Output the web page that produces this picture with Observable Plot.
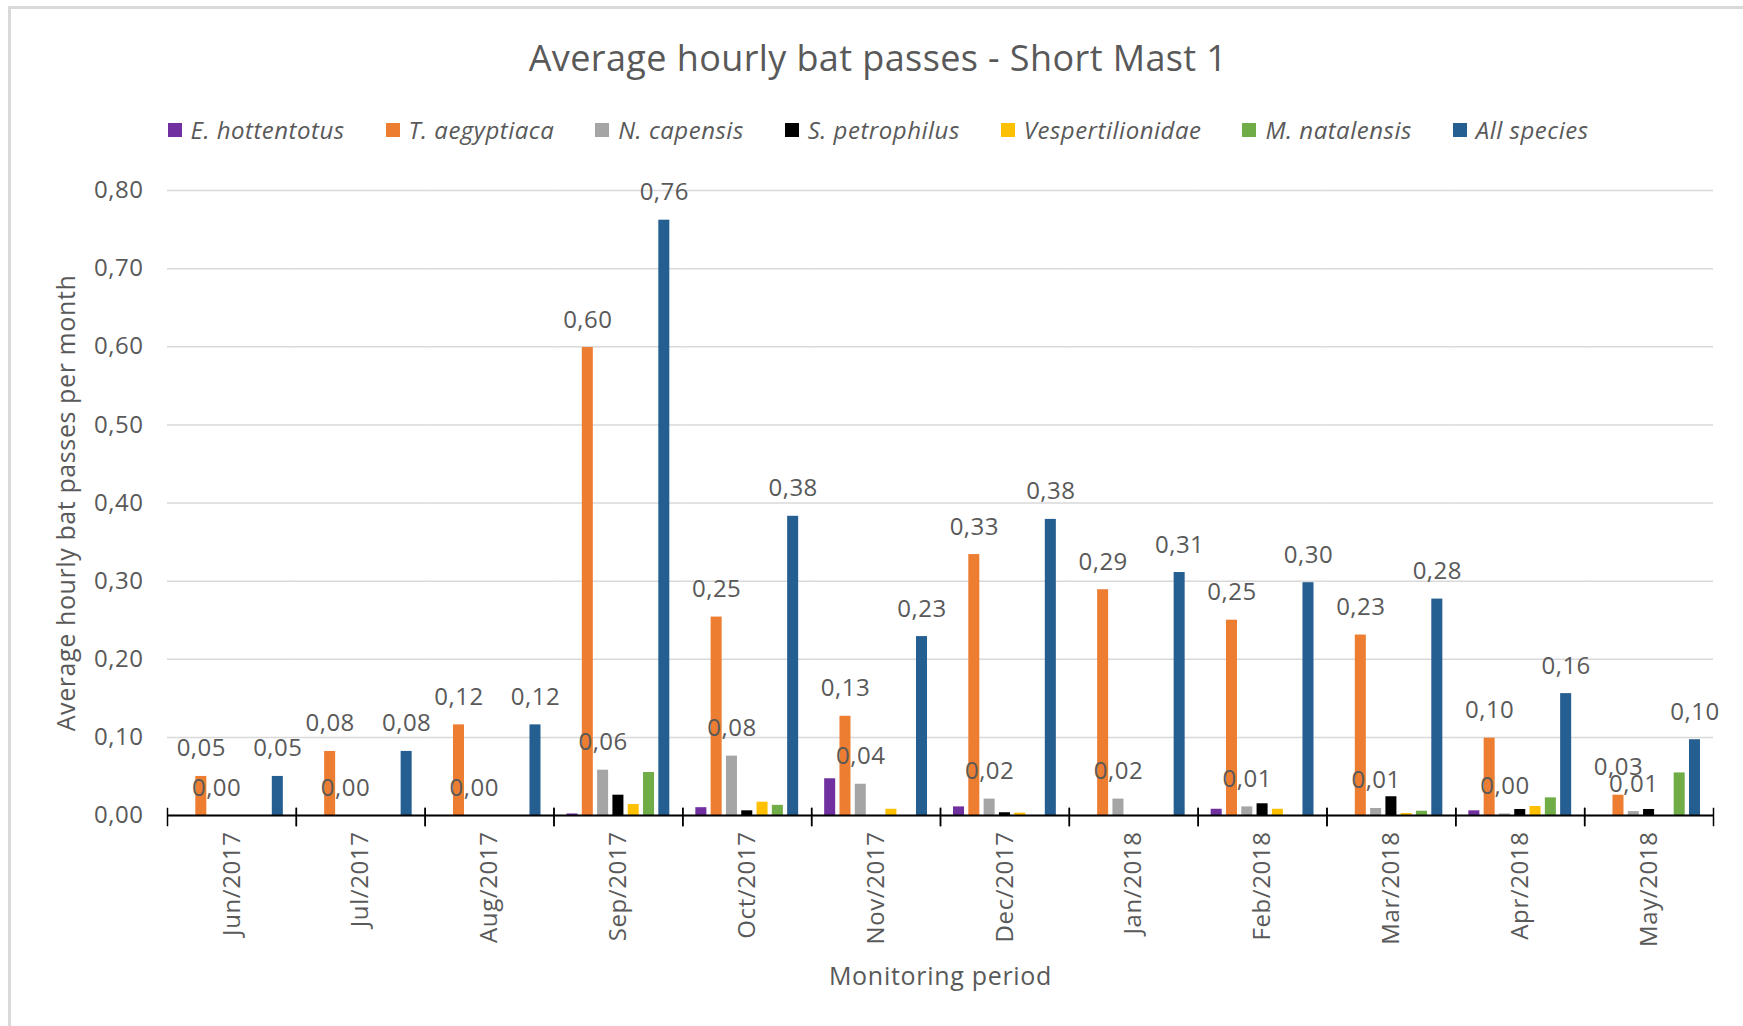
<!DOCTYPE html>
<html><head><meta charset="utf-8">
<script src="https://cdn.jsdelivr.net/npm/d3@7"></script>
<script src="https://cdn.jsdelivr.net/npm/@observablehq/plot@0.6"></script>
<style>
body{margin:0;background:#fff;font-family:"Open Sans",sans-serif;}
#wrap{position:relative;width:1743px;height:1026px;overflow:hidden;background:#fff;}
#border{position:absolute;left:8px;top:6px;width:1800px;height:1100px;border:3px solid #d9d9d9;box-sizing:border-box;}
#title{position:absolute;left:10px;width:1736px;top:37px;line-height:42px;text-align:center;font-size:36px;letter-spacing:0.4px;color:#595959;}
#legend{position:absolute;left:10px;width:1736px;top:114px;line-height:32px;display:flex;justify-content:center;gap:41px;font-size:24px;letter-spacing:0.5px;font-style:italic;color:#595959;}
.item{display:flex;align-items:center;gap:9px}
.sw{width:14px;height:14px}
#chart{position:absolute;left:0;top:160px;}
#chart svg g[aria-label="text"] text{letter-spacing:0.5px}
#chart svg g[aria-label="y-axis tick label"] text{letter-spacing:0.5px}
#chart svg g[aria-label="fx-axis tick label"] text{letter-spacing:0.6px}
#chart svg g[aria-label="y-axis label"] text{letter-spacing:0.6px}
#chart svg g[aria-label="fx-axis label"] text{letter-spacing:0.7px}
</style>
</head><body>
<div id="wrap">
<div id="border"></div>
<div id="title">Average hourly bat passes - Short Mast 1</div>
<div id="legend"></div>
<div id="chart"></div>
</div>
<script>
const months = ["Jun/2017","Jul/2017","Aug/2017","Sep/2017","Oct/2017","Nov/2017","Dec/2017","Jan/2018","Feb/2018","Mar/2018","Apr/2018","May/2018"];
const species = ["E. hottentotus","T. aegyptiaca","N. capensis","S. petrophilus","Vespertilionidae","M. natalensis","All species"];
const colors = ["#7030A0","#ED7D31","#A5A5A5","#000000","#FFC000","#70AD47","#255E91"];
const eHottentotus     = [0,0,0,0.002,0.010,0.047,0.011,0,0.008,0,0.006,0];
const tAegyptiaca      = [0.050,0.082,0.116,0.599,0.254,0.127,0.334,0.289,0.250,0.231,0.099,0.026];
const nCapensis        = [0,0,0,0.058,0.076,0.040,0.021,0.021,0.011,0.009,0.002,0.005];
const sPetrophilus     = [0,0,0,0.026,0.006,0,0.0035,0,0.015,0.024,0.0077,0.0077];
const vespertilionidae = [0,0,0,0.014,0.017,0.008,0.003,0,0.008,0.0025,0.0115,0];
const mNatalensis      = [0,0,0,0.055,0.013,0,0,0,0,0.0055,0.0226,0.0545];
const allSpecies       = [0.050,0.082,0.116,0.762,0.383,0.229,0.379,0.311,0.298,0.277,0.156,0.097];
const yTicks = [0,0.1,0.2,0.3,0.4,0.5,0.6,0.7,0.8];
const labelledSpecies = ["T. aegyptiaca","N. capensis","All species"];

const series = [eHottentotus,tAegyptiaca,nCapensis,sPetrophilus,vespertilionidae,mNatalensis,allSpecies];
const rows = [];
months.forEach((m,i)=>species.forEach((s,j)=>rows.push({month:m,species:s,value:series[j][i]})));
const labelRows = rows.filter(r=>labelledSpecies.includes(r.species));
const fmt = v => d3.format(".2f")(v).replace(".", ",");

// legend
const leg = document.getElementById("legend");
species.forEach((s,j)=>{
  const it=document.createElement("div");it.className="item";
  const sw=document.createElement("div");sw.className="sw";sw.style.background=colors[j];
  const tx=document.createElement("span");tx.textContent=s;
  it.appendChild(sw);it.appendChild(tx);leg.appendChild(it);
});

const innerH = 866-30-211;
const chart = Plot.plot({
  width: 1743, height: 866,
  marginLeft: 167, marginRight: 30, marginTop: 30, marginBottom: 211,
  style: {fontFamily: "'Open Sans', sans-serif", fontSize: "24px", color: "#595959", background: "transparent"},
  fx: {domain: months, padding: 0, round: false},
  x: {domain: species, paddingInner: 0.28, paddingOuter: 0.85, round: false, axis: null},
  y: {domain: [0, 0.8]},
  color: {domain: species, range: colors},
  marks: [
    Plot.gridY(yTicks, {stroke: "#d9d9d9", strokeOpacity: 1, strokeWidth: 1.5}),
    Plot.axisY(yTicks, {tickSize: 0, tickPadding: 24, tickFormat: fmt, fontSize: 24, fill: "#595959",
      label: "Average hourly bat passes per month", labelAnchor: "center", labelOffset: 110, labelArrow: "none"}),
    Plot.axisFx({anchor: "bottom", tickRotate: -90, tickSize: 0, tickPadding: 16, fontSize: 24, fill: "#595959",
      label: "Monitoring period", labelAnchor: "center", labelOffset: 169, labelArrow: "none"}),
    Plot.barY(rows, {fx: "month", x: "species", y: "value", fill: "species"}),
    Plot.ruleY([0], {stroke: "black", strokeWidth: 2}),
    Plot.frame({anchor: "left", stroke: "black", strokeWidth: 1.5, insetTop: innerH - 7, insetBottom: -10}),
    Plot.frame({anchor: "right", stroke: "black", strokeWidth: 1.5, insetTop: innerH - 7, insetBottom: -10}),
    Plot.text(labelRows, {fx: "month", x: "species", y: "value", text: d => fmt(d.value), dy: -20, lineAnchor: "bottom", fill: "#595959", fontSize: 24})
  ]
});
document.getElementById("chart").appendChild(chart);
// larger axis titles
chart.querySelectorAll('g[aria-label="y-axis label"] text, g[aria-label="fx-axis label"] text').forEach(t=>t.setAttribute("font-size","25"));
</script>
</body></html>
